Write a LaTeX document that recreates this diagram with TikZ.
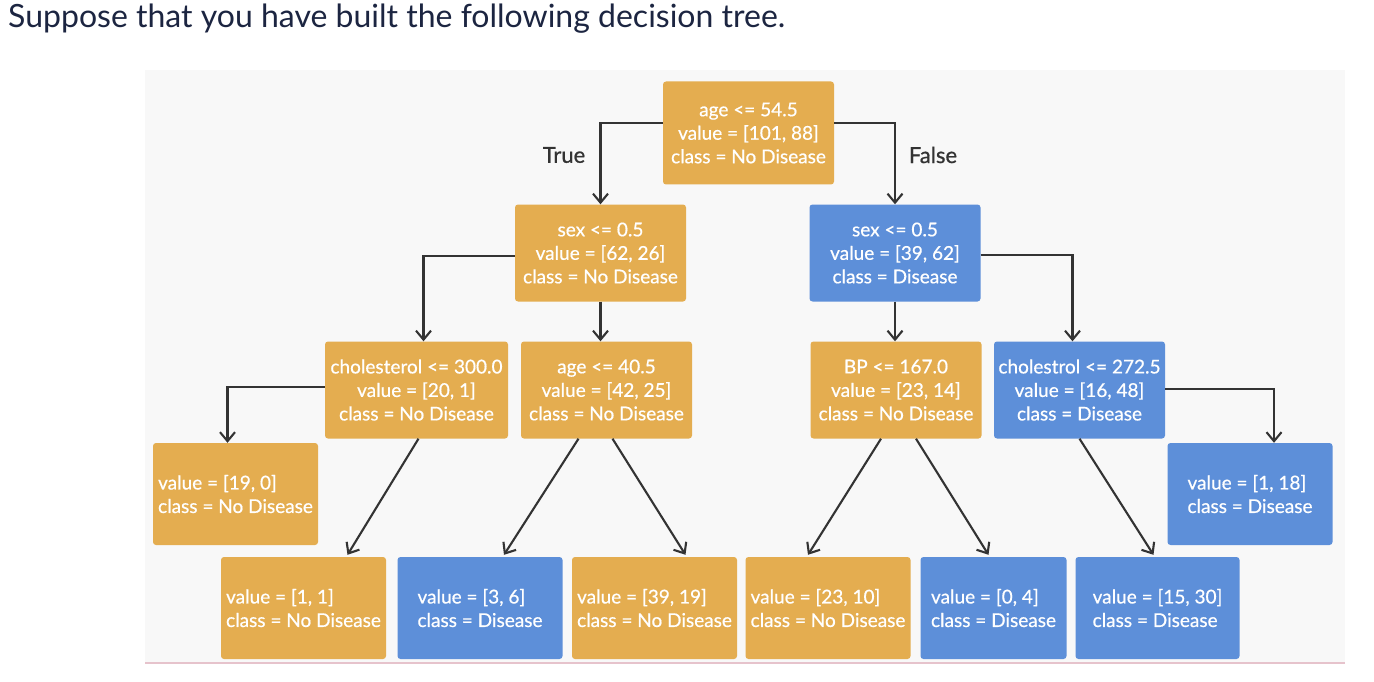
\documentclass[tikz,border=0pt]{standalone}
\usepackage{fontspec}
\setmainfont{Lato}
\usetikzlibrary{arrows.meta}
\definecolor{orng}{HTML}{E4AD50}
\definecolor{blu}{HTML}{5D8FD9}
\definecolor{panel}{HTML}{F8F8F8}
\definecolor{navy}{HTML}{1C2541}
\definecolor{edgec}{HTML}{333333}
\definecolor{pinkline}{HTML}{E6C3CC}
\tikzset{
  box/.style={rounded corners=3pt, inner sep=2pt, text=white, align=center,
    font=\fontsize{19}{23.5}\selectfont\addfontfeature{FakeBold=0.6}},
  ibox/.style={box, minimum width=171pt, minimum height=97pt},
  lbox/.style={box, align=left, minimum width=165pt, minimum height=102pt},
  obox/.style={fill=orng},
  bbox/.style={fill=blu},
  edge/.style={draw=edgec, line width=2.1pt, -{Straight Barb[length=9pt,width=15pt]}},
  elabel/.style={text=edgec, font=\fontsize{22}{26}\selectfont\addfontfeature{FakeBold=0.8}}
}
\begin{document}
\begin{tikzpicture}[x=1pt,y=-1pt]
\useasboundingbox (0,0) rectangle (1374,682);
\fill[white] (0,0) rectangle (1374,682);
\fill[panel] (145,70) rectangle (1345,662);
\draw[pinkline, line width=1.2pt] (145,663) -- (1345,663);
\node[anchor=base west, text=navy, font=\fontsize{32}{36}\selectfont, inner sep=0pt] (title) at (8,28) {Suppose that you have built the following decision tree.};

\node[ibox, obox, minimum height=103pt] (root) at (748.5,133) {age <= 54.5\\value = [101, 88]\\class = No Disease};
\node[ibox, obox] (sexL) at (600.5,253) {sex <= 0.5\\value = [62, 26]\\class = No Disease};
\node[ibox, bbox] (sexR) at (895,253) {sex <= 0.5\\value = [39, 62]\\class = Disease};
\node[ibox, obox, minimum width=183pt] (chol) at (416.5,390) {cholesterol <= 300.0\\value = [20, 1]\\class = No Disease};
\node[ibox, obox] (age) at (606.5,390) {age <= 40.5\\value = [42, 25]\\class = No Disease};
\node[ibox, obox] (bp) at (896,390) {BP <= 167.0\\value = [23, 14]\\class = No Disease};
\node[ibox, bbox] (chs) at (1079.5,390) {cholestrol <= 272.5\\value = [16, 48]\\class = Disease};
\node[lbox, obox] (l190) at (235.5,494) {value = [19, 0]\\class = No Disease};
\node[lbox, bbox] (l118) at (1250,494) {value = [1, 18]\\class = Disease};
\node[lbox, obox] (l11) at (303.5,608) {value = [1, 1]\\class = No Disease};
\node[lbox, bbox] (l36) at (480,608) {value = [3, 6]\\class = Disease};
\node[lbox, obox] (l3919) at (654.5,608) {value = [39, 19]\\class = No Disease};
\node[lbox, obox] (l2310) at (828,608) {value = [23, 10]\\class = No Disease};
\node[lbox, bbox, minimum width=146pt] (l04) at (993.5,608) {value = [0, 4]\\class = Disease};
\node[lbox, bbox, minimum width=164pt] (l1530) at (1157.5,608) {value = [15, 30]\\class = Disease};

\draw[edge] ([yshift=10pt]root.west) -| (sexL.north);
\draw[edge] ([yshift=10pt]root.east) -| (sexR.north);
\node[elabel] (tl) at (564,155) {True};
\node[elabel] (fl) at (933,155) {False};
\draw[edge] ([yshift=-3pt]sexL.west) -| ([xshift=7pt]chol.north);
\draw[edge] (sexL.south) -- (sexL.south |- age.north);
\draw[edge] (sexR.south) -- (sexR.south |- bp.north);
\draw[edge] ([yshift=-2pt]sexR.east) -| ([xshift=-7pt]chs.north);
\draw[edge] ([yshift=3pt]chol.west) -| ([xshift=-8pt]l190.north);
\draw[edge] ([yshift=1pt]chs.east) -| ([xshift=24pt]l118.north);
\draw[edge] ([xshift=2pt]chol.south) -- ([xshift=44pt,yshift=2pt]l11.north);
\draw[edge] ([xshift=-28pt]age.south) -- ([xshift=24pt,yshift=2pt]l36.north);
\draw[edge] ([xshift=6pt]age.south) -- ([xshift=31pt,yshift=2pt]l3919.north);
\draw[edge] ([xshift=-15pt]bp.south) -- ([xshift=-20pt,yshift=2pt]l2310.north);
\draw[edge] ([xshift=20pt]bp.south) -- ([xshift=-5pt,yshift=2pt]l04.north);
\draw[edge] (chs.south) -- ([xshift=-4pt,yshift=2pt]l1530.north);
\end{tikzpicture}
\end{document}
